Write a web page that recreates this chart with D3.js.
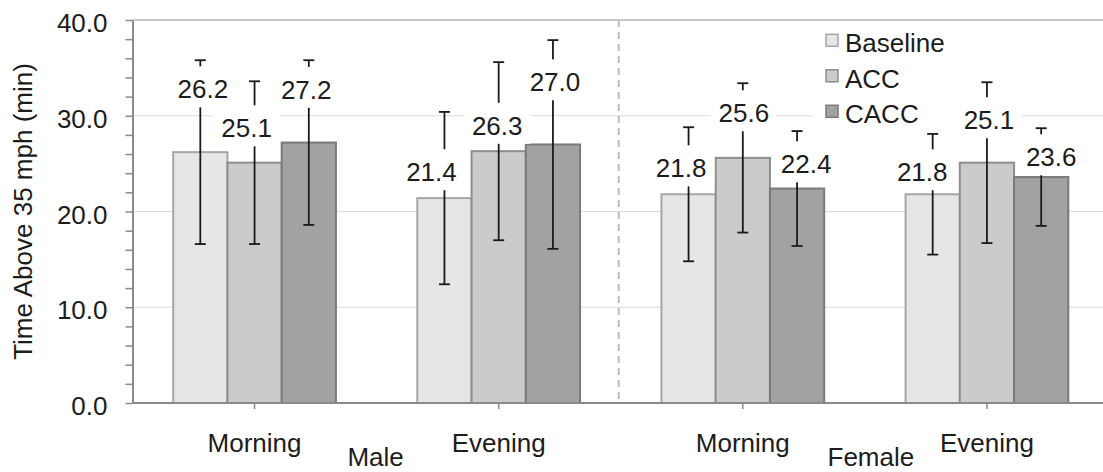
<!DOCTYPE html>
<html>
<head>
<meta charset="utf-8">
<script src="https://cdn.jsdelivr.net/npm/d3@7"></script>
<style>
  html, body { margin: 0; padding: 0; background: #fff; }
  svg { display: block; font-family: "Liberation Sans", Arial, sans-serif; }
</style>
</head>
<body>
<svg id="chart" width="1103" height="472"></svg>
<script>
// ---- data ----
const categories = ["Morning", "Evening", "Morning", "Evening"];
const groups = ["Male", "Female"];
const series = ["Baseline", "ACC", "CACC"];
const baseline = [26.2, 21.4, 21.8, 21.8];
const acc = [25.1, 26.3, 25.6, 25.1];
const cacc = [27.2, 27.0, 22.4, 23.6];
const baselineErr = [9.6, 9.0, 7.0, 6.3];
const accErr = [8.5, 9.3, 7.8, 8.4];
const caccErr = [8.6, 10.9, 6.0, 5.1];
const yTicks = [0, 10, 20, 30, 40];
const yTitle = "Time Above 35 mph (min)";

// label placement (value-units for height, px nudge horizontally)
const labelAtBaseline = [32.79, 24.13, 24.54, 24.13];
const labelAtAcc = [28.72, 28.98, 30.29, 29.56];
const labelAtCacc = [32.74, 33.52, 24.96, 25.69];
const labelDxBaseline = [2.5, -13, -7.5, -10.5];
const labelDxAcc = [-8, -1.5, 1, 2];
const labelDxCacc = [-2.6, 2, 9, 10];
const groupLabelDx = [-1, 6];

const values = [baseline, acc, cacc];
const errs = [baselineErr, accErr, caccErr];
const labelAt = [labelAtBaseline, labelAtAcc, labelAtCacc];
const labelDx = [labelDxBaseline, labelDxAcc, labelDxCacc];
const fills = ["#e6e6e6", "#cbcbcb", "#a2a2a2"];
const strokes = ["#a6a6a6", "#8e8e8e", "#7a7a7a"];

const svg = d3.select("#chart");
const pLeft = 132.5, pRight = 1109, pTop = 20, pBottom = 403;
const fontSize = 26;
const textColor = "#1c1c1c";

const catIdx = d3.range(categories.length);
const x0 = d3.scaleBand().domain(catIdx).range([pLeft, pRight]).padding(0);
const x1 = d3.scaleBand().domain(series).range([0, x0.bandwidth()]).paddingInner(0).paddingOuter(0.75);
const y = d3.scaleLinear().domain([0, 40]).range([pBottom, pTop]);

// gridlines
svg.append("g").selectAll("line").data(yTicks.filter(d => d > 0)).join("line")
  .attr("x1", pLeft).attr("x2", 1103)
  .attr("y1", d => y(d)).attr("y2", d => y(d))
  .attr("stroke", d => d === 40 ? "#c9c9c9" : "#dcdcdc")
  .attr("stroke-width", d => d === 40 ? 2 : 1);

// divider between groups
const divX = x0(2) - 2;
svg.append("line")
  .attr("x1", divX).attr("x2", divX).attr("y1", y(40)).attr("y2", y(0))
  .attr("stroke", "#bdbdbd").attr("stroke-width", 2).attr("stroke-dasharray", "7,5");

// bars
const barData = [];
series.forEach((s, si) => catIdx.forEach(ci => barData.push({ s, si, ci, v: values[si][ci], e: errs[si][ci] })));
svg.append("g").selectAll("rect").data(barData).join("rect")
  .attr("x", d => x0(d.ci) + x1(d.s))
  .attr("y", d => y(d.v))
  .attr("width", x1.bandwidth())
  .attr("height", d => y(0) - y(d.v))
  .attr("fill", d => fills[d.si])
  .attr("stroke", d => strokes[d.si])
  .attr("stroke-width", 2);

// error bars
const eb = svg.append("g").attr("stroke", "#1a1a1a").attr("stroke-width", 1.8);
barData.forEach(d => {
  const cx = x0(d.ci) + x1(d.s) + x1.bandwidth() / 2;
  eb.append("line").attr("x1", cx).attr("x2", cx).attr("y1", y(d.v + d.e)).attr("y2", y(d.v - d.e));
  [d.v + d.e, d.v - d.e].forEach(v => {
    eb.append("line").attr("x1", cx - 5.5).attr("x2", cx + 5.5).attr("y1", y(v)).attr("y2", y(v));
  });
});

// data labels with white boxes
const lg = svg.append("g");
barData.forEach(d => {
  const cx = x0(d.ci) + x1(d.s) + x1.bandwidth() / 2 + labelDx[d.si][d.ci];
  const baseY = y(labelAt[d.si][d.ci]) + 9.3;
  const g = lg.append("g");
  const rect = g.append("rect").attr("fill", "#fff");
  const t = g.append("text").attr("x", cx).attr("y", baseY)
    .attr("text-anchor", "middle").attr("font-size", fontSize).attr("fill", textColor)
    .text(d3.format(".1f")(d.v));
  const bb = t.node().getBBox();
  rect.attr("x", bb.x - 8).attr("width", bb.width + 16)
    .attr("y", baseY - 32).attr("height", 41);
});

// y axis
const yAxis = d3.axisLeft(y).tickValues(d3.range(0, 40.001, 2)).tickSize(7).tickSizeOuter(0).tickPadding(18)
  .tickFormat(d => (Math.round(d) % 10 === 0) ? d3.format(".1f")(d) : "");
const ya = svg.append("g").attr("transform", `translate(${pLeft},0)`).call(yAxis);
ya.select(".domain").attr("stroke", "#8a8a8a").attr("stroke-width", 2);
ya.selectAll(".tick line").attr("stroke", "#8a8a8a").attr("stroke-width", 1.5);
ya.selectAll(".tick text").attr("font-size", fontSize).attr("fill", textColor)
  .attr("font-family", "'Liberation Sans', Arial, sans-serif").attr("dy", "0.45em");

// x axis
const xAxis = d3.axisBottom(x0).tickSize(6).tickSizeOuter(0).tickPadding(24.5)
  .tickFormat(i => categories[i]);
const xa = svg.append("g").attr("transform", `translate(0,${pBottom})`).call(xAxis);
xa.select(".domain").attr("stroke", "#8a8a8a").attr("stroke-width", 2)
  .attr("d", `M${pLeft},0H1103`);
xa.selectAll(".tick line").attr("stroke", "#8a8a8a").attr("stroke-width", 1.5);
xa.selectAll(".tick text").attr("font-size", fontSize).attr("fill", textColor)
  .attr("font-family", "'Liberation Sans', Arial, sans-serif");

// group labels
groups.forEach((g, gi) => {
  const cx = (x0(gi * 2) + x0(gi * 2 + 1)) / 2 + x0.bandwidth() / 2 + groupLabelDx[gi];
  svg.append("text").attr("x", cx).attr("y", 466)
    .attr("text-anchor", "middle").attr("font-size", fontSize).attr("fill", textColor).text(g);
});

// y title
svg.append("text")
  .attr("transform", `translate(32,${(pTop + pBottom) / 2}) rotate(-90)`)
  .attr("text-anchor", "middle").attr("font-size", fontSize).attr("fill", textColor)
  .text(yTitle);

// legend
const leg = svg.append("g");
leg.append("rect").attr("x", 813).attr("y", 24).attr("width", 145).attr("height", 106).attr("fill", "#fff");
series.forEach((s, si) => {
  const by = 52.3 + si * 35.5;
  leg.append("rect").attr("x", 826).attr("y", by - 18).attr("width", 12).attr("height", 12)
    .attr("fill", fills[si]).attr("stroke", strokes[si]).attr("stroke-width", 1.5);
  leg.append("text").attr("x", 845).attr("y", by).attr("font-size", fontSize).attr("fill", textColor).text(s);
});
</script>
</body>
</html>
